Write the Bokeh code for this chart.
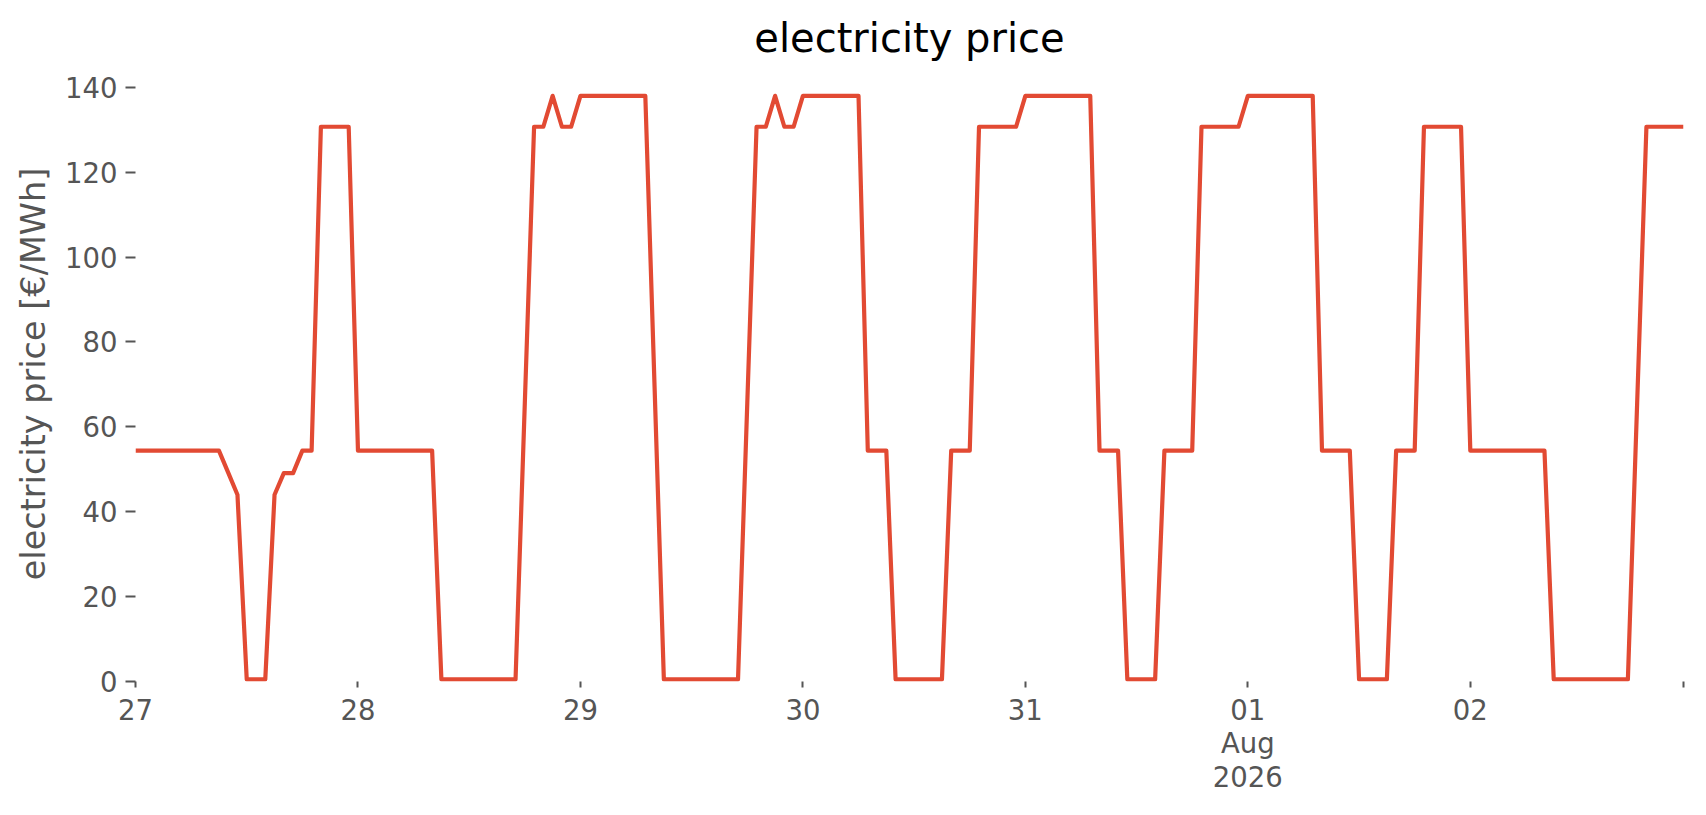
import pandas as pd
from bokeh.plotting import figure
from bokeh.models import ColumnDataSource, Range1d, FixedTicker
from bokeh.embed import file_html
from bokeh.resources import INLINE

# ---- data -------------------------------------------------------------
start_time = "2026-07-27 00:00"
n_hours = 168

price = [
    # Jul 27
    54.4, 54.4, 54.4, 54.4, 54.4, 54.4, 54.4, 54.4, 54.4, 54.4, 49.2, 44.0,
    0.5, 0.5, 0.5, 44.0, 49.1, 49.1, 54.4, 54.4, 130.7, 130.7, 130.7, 130.7,
    # Jul 28
    54.4, 54.4, 54.4, 54.4, 54.4, 54.4, 54.4, 54.4, 54.4, 0.5, 0.5, 0.5,
    0.5, 0.5, 0.5, 0.5, 0.5, 0.5, 65.6, 130.7, 130.7, 138.0, 130.7, 130.7,
    # Jul 29
    138.0, 138.0, 138.0, 138.0, 138.0, 138.0, 138.0, 138.0, 69.3, 0.5, 0.5, 0.5,
    0.5, 0.5, 0.5, 0.5, 0.5, 0.5, 65.6, 130.7, 130.7, 138.0, 130.7, 130.7,
    # Jul 30
    138.0, 138.0, 138.0, 138.0, 138.0, 138.0, 138.0, 54.4, 54.4, 54.4, 0.5, 0.5,
    0.5, 0.5, 0.5, 0.5, 54.4, 54.4, 54.4, 130.7, 130.7, 130.7, 130.7, 130.7,
    # Jul 31
    138.0, 138.0, 138.0, 138.0, 138.0, 138.0, 138.0, 138.0, 54.4, 54.4, 54.4, 0.5,
    0.5, 0.5, 0.5, 54.4, 54.4, 54.4, 54.4, 130.7, 130.7, 130.7, 130.7, 130.7,
    # Aug 01
    138.0, 138.0, 138.0, 138.0, 138.0, 138.0, 138.0, 138.0, 54.4, 54.4, 54.4, 54.4,
    0.5, 0.5, 0.5, 0.5, 54.4, 54.4, 54.4, 130.7, 130.7, 130.7, 130.7, 130.7,
    # Aug 02
    54.4, 54.4, 54.4, 54.4, 54.4, 54.4, 54.4, 54.4, 54.4, 0.5, 0.5, 0.5,
    0.5, 0.5, 0.5, 0.5, 0.5, 0.5, 65.6, 130.7, 130.7, 130.7, 130.7, 130.7,
]

x_tick_dates = ["2026-07-27", "2026-07-28", "2026-07-29", "2026-07-30",
                "2026-07-31", "2026-08-01", "2026-08-02", "2026-08-02 23:00"]
x_tick_labels = ["27", "28", "29", "30", "31", "01\nAug\n2026", "02", ""]

y_ticks = [0, 20, 40, 60, 80, 100, 120, 140]

title_text = "electricity price"
y_label = "electricity price [€/MWh]"

# ---- build ------------------------------------------------------------
times = pd.date_range(start_time, periods=n_hours, freq="h")
source = ColumnDataSource(dict(t=times, price=price))


def to_ms(ts):
    return float(pd.Timestamp(ts).value // 10**6)


x_start = to_ms(times[0])
x_end = to_ms(times[-1])
tick_ms = [to_ms(d) for d in x_tick_dates]

FONT = "DejaVu Sans"
GREY = "#555555"

p = figure(
    frame_width=1548, frame_height=615,
    x_axis_type="datetime",
    x_range=Range1d(x_start, x_end),
    y_range=Range1d(0, 144.9),
    output_backend="svg", toolbar_location=None,
    min_border_left=135, min_border_right=7,
    min_border_top=66, min_border_bottom=116,
    background_fill_color="white", border_fill_color="white",
    outline_line_color=None,
)

p.title.text = title_text
p.title.align = "center"
p.title.text_font = FONT
p.title.text_font_size = "40px"
p.title.text_font_style = "normal"
p.title.text_color = "black"
p.title.standoff = 11

p.xgrid.visible = False
p.ygrid.visible = False

p.line(x="t", y="price", source=source, line_color="#E24A33",
       line_width=4.2, line_join="round")

# y axis
ya = p.yaxis[0]
ya.ticker = FixedTicker(ticks=y_ticks)
ya.axis_line_color = None
ya.major_tick_line_color = GREY
ya.major_tick_line_width = 2
ya.major_tick_out = 10
ya.major_tick_in = 0
ya.minor_tick_line_color = None
ya.major_label_text_font = FONT
ya.major_label_text_font_size = "27.5px"
ya.major_label_text_color = GREY
ya.major_label_standoff = 8
ya.axis_label = y_label
ya.axis_label_text_font = FONT
ya.axis_label_text_font_size = "33.5px"
ya.axis_label_text_font_style = "normal"
ya.axis_label_text_color = GREY
ya.axis_label_standoff = 9

# x axis
xa = p.xaxis[0]
xa.ticker = FixedTicker(ticks=tick_ms)
xa.major_label_overrides = {t: lab for t, lab in zip(tick_ms, x_tick_labels)}
xa.axis_line_color = None
xa.major_tick_line_color = GREY
xa.major_tick_line_width = 2
xa.major_tick_out = 6
xa.major_tick_in = 0
xa.minor_tick_line_color = None
xa.major_label_text_font = FONT
xa.major_label_text_font_size = "27.5px"
xa.major_label_text_color = GREY
xa.major_label_text_line_height = 1.06
xa.major_label_standoff = 6

open("out.html", "w").write(file_html(p, INLINE))
